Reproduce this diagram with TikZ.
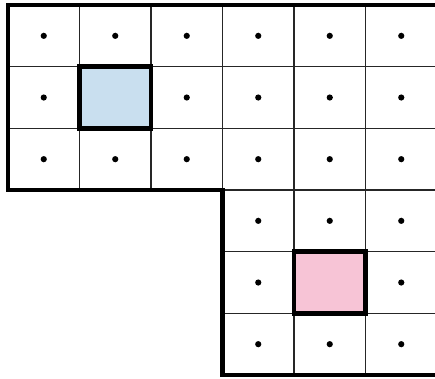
\documentclass[tikz,border=0pt]{standalone}
\definecolor{cellblue}{HTML}{C9DFEF}
\definecolor{cellpink}{HTML}{F7C4D6}
\tikzset{
  thin grid/.style={line width=1.3pt, draw=black!85},
  outline/.style={line width=4.6pt, draw=black, line join=miter},
  hibox/.style={line width=4.6pt, draw=black},
  dotmark/.style={fill=black, draw=none}
}
\begin{document}
\begin{tikzpicture}[x=1pt,y=-1pt]
\useasboundingbox (0,0) rectangle (435,378);
\fill[white] (0,0) rectangle (435,378);
\def\cw{71.5}
\def\ch{61.667}
% highlighted fills
\fill[cellblue] (79.5,66.667) rectangle (151,128.333);
\fill[cellpink] (294,251.667) rectangle (365.5,313.333);
% thin grid: top section
\foreach \r in {0,1,2} {
  \foreach \c in {0,...,5} {
    \pgfmathsetmacro{\xa}{8+\cw*\c}
    \pgfmathsetmacro{\ya}{5+\ch*\r}
    \draw[thin grid] (\xa,\ya) rectangle ++(\cw,\ch);
  }
}
% thin grid: bottom section
\foreach \r in {3,4,5} {
  \foreach \c in {3,4,5} {
    \pgfmathsetmacro{\xa}{8+\cw*\c}
    \pgfmathsetmacro{\ya}{5+\ch*\r}
    \draw[thin grid] (\xa,\ya) rectangle ++(\cw,\ch);
  }
}
% dots
\foreach \r/\c in {0/0,0/1,0/2,0/3,0/4,0/5,
                   1/0,1/2,1/3,1/4,1/5,
                   2/0,2/1,2/2,2/3,2/4,2/5,
                   3/3,3/4,3/5,
                   4/3,4/5,
                   5/3,5/4,5/5} {
  \pgfmathsetmacro{\xm}{8+\cw*(\c+0.5)}
  \pgfmathsetmacro{\ym}{5+\ch*(\r+0.5)}
  \fill[dotmark] (\xm,\ym) circle (3.1);
}
% highlight borders
\draw[hibox] (79.5,66.667) rectangle (151,128.333);
\draw[hibox] (294,251.667) rectangle (365.5,313.333);
% outline
\draw[outline] (8,5) -- (437,5) -- (437,375) -- (222.5,375) -- (222.5,190) -- (8,190) -- cycle;
\end{tikzpicture}
\end{document}
